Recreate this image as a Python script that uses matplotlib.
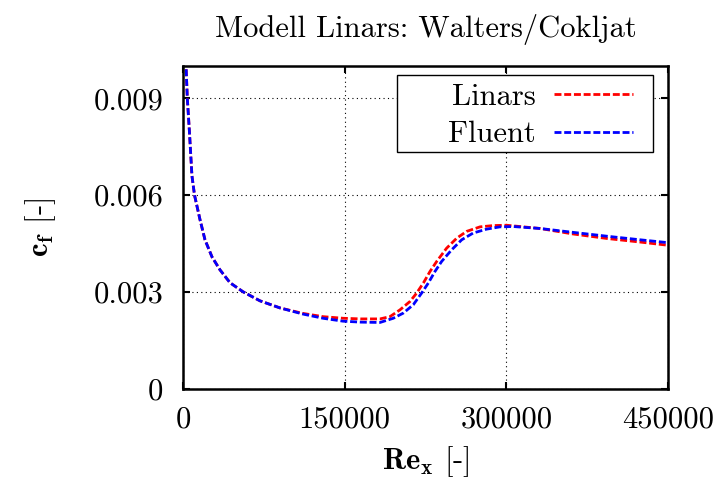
# LIBRARIES #
import matplotlib
matplotlib.use('Agg')
import matplotlib.pyplot as plt
from matplotlib.patches import Rectangle



# DATA: skin friction coefficient along the plate #
re_linars = [2600, 4000, 5900, 8300, 10700, 15800, 20400, 26900, 34300, 43600, 55700, 71400, 90000,
             111300, 129900, 148400, 165000, 182800, 192000, 201300, 210600, 216800, 223000, 229200,
             235400, 244600, 254000, 263200, 275600, 287900, 300300, 331200, 361800, 393400, 424000, 450000]
cf_linars = [0.0102, 0.0090, 0.0080, 0.00660, 0.00600, 0.00524, 0.00462, 0.00409, 0.00369, 0.00329, 0.00301, 0.00273, 0.00251,
             0.00234, 0.00224, 0.00219, 0.00217, 0.00217, 0.00224, 0.00245, 0.00271, 0.00297, 0.00328, 0.00364,
             0.00395, 0.00436, 0.00467, 0.00488, 0.00502, 0.00506, 0.00507, 0.00497, 0.00480, 0.00466, 0.00455, 0.00445]

re_fluent = [2600, 4000, 5900, 8300, 10700, 15800, 20400, 26900, 34300, 43600, 55700, 71400, 90000,
             111300, 129900, 148400, 165000, 182800, 195100, 204400, 213700, 221400, 227600, 233800,
             240000, 249300, 258600, 269300, 281800, 294100, 306500, 331200, 361800, 393400, 424000, 450000]
cf_fluent = [0.0102, 0.0090, 0.0080, 0.00660, 0.00600, 0.00524, 0.00462, 0.00409, 0.00369, 0.00329, 0.00301, 0.00273, 0.00251,
             0.00232, 0.00219, 0.00210, 0.00207, 0.00206, 0.00219, 0.00235, 0.00261, 0.00297, 0.00328, 0.00364,
             0.00395, 0.00431, 0.00462, 0.00483, 0.00495, 0.00502, 0.00503, 0.00497, 0.00485, 0.00473, 0.00462, 0.00453]

x_ticks = [0, 150000, 300000, 450000]
x_tick_labels = ['0', '150000', '300000', '450000']
y_ticks = [0, 0.003, 0.006, 0.009]
y_tick_labels = ['0', '0.003', '0.006', '0.009']



# FONT SETTINGS (Computer Modern look) #
plt.rcParams['font.family'] = 'serif'
plt.rcParams['font.serif'] = ['cmr10']
plt.rcParams['mathtext.fontset'] = 'cm'
plt.rcParams['axes.unicode_minus'] = False
plt.rcParams['axes.formatter.use_mathtext'] = True
fs = 22



# PLOT #
fig = plt.figure(figsize=(7.22, 4.82), dpi=100)
ax = fig.add_axes([183/722, 93/482, 485/722, 323/482])

dash = (2.5, 1.0)
ax.plot(re_linars, cf_linars, color='#ff0000', lw=2.0, dashes=dash, label='Linars')
ax.plot(re_fluent, cf_fluent, color='#0000ff', lw=2.0, dashes=dash, label='Fluent')

# Axis settings
ax.set_xlim(0, 450000)
ax.set_ylim(0, 0.01)
ax.set_xticks(x_ticks, x_tick_labels)
ax.set_yticks(y_ticks, y_tick_labels)
ax.tick_params(direction='in', length=5, width=1.5, top=True, right=True, labelsize=fs)
ax.tick_params(axis='x', pad=12)
ax.tick_params(axis='y', pad=14)
for spine in ax.spines.values():
    spine.set_linewidth(1.8)
ax.grid(True, color='black', lw=0.8, ls=(0, (1, 3)))

ax.set_title('Modell Linars: Walters/Cokljat', fontsize=fs, pad=21)
ax.set_xlabel(r'$\mathbf{Re}_\mathbf{x}$ [-]', fontsize=fs, labelpad=8)
ax.set_ylabel(r'$\mathbf{c}_\mathbf{f}$ [-]', fontsize=fs, labelpad=26)

# Legend: gnuplot-style wide box drawn separately behind the entries
ax.add_patch(Rectangle((0.441, 0.734), 0.528, 0.238, transform=ax.transAxes,
                       facecolor='white', edgecolor='black', lw=1.0, zorder=4))
leg = ax.legend(loc='upper right', bbox_to_anchor=(0.928, 0.946), borderaxespad=0, borderpad=0,
                fontsize=fs, markerfirst=False, handlelength=2.6, handletextpad=0.6,
                labelspacing=0.33, frameon=False)
leg.set_zorder(5)

fig.savefig('out.png', dpi=100)
